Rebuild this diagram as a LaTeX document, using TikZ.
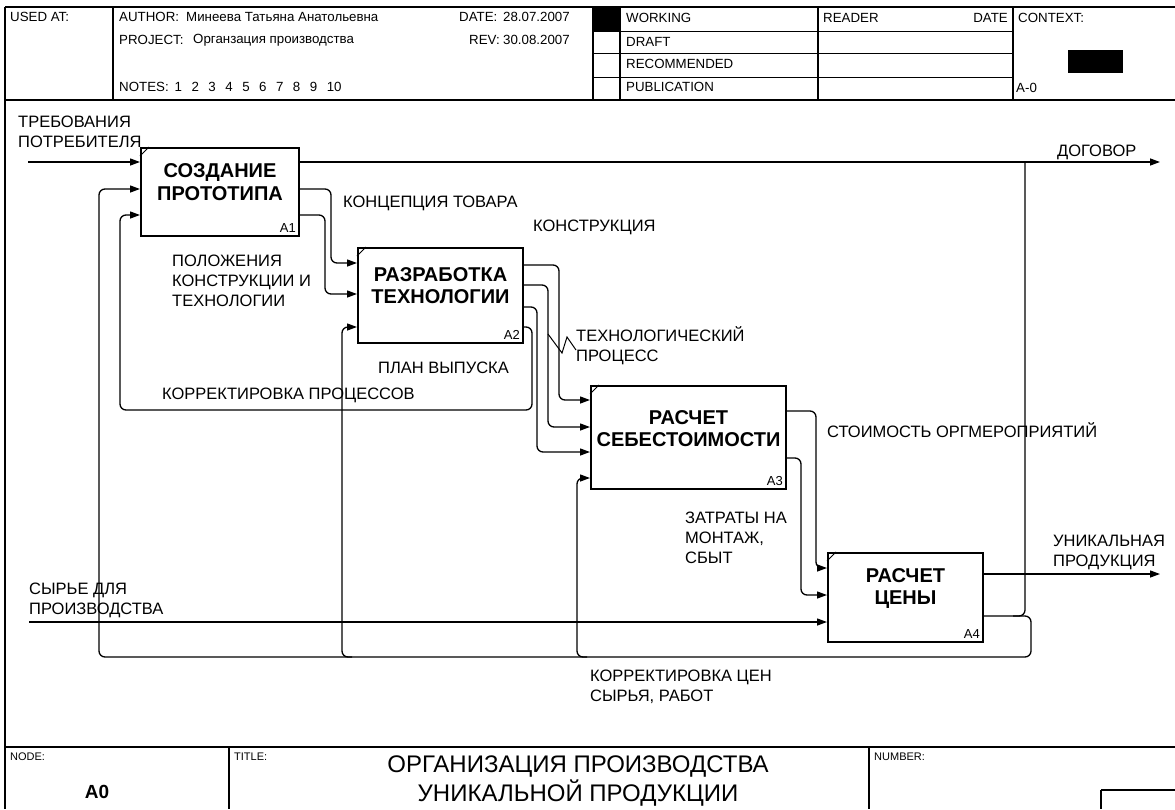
\documentclass[tikz,border=0pt]{standalone}
\usepackage{fontspec}
\setmainfont{Liberation Sans}
\usetikzlibrary{arrows.meta,calc}
\begin{document}
\begin{tikzpicture}[x=1pt,y=-1pt,
  frame/.style={line width=1.3pt},
  rowline/.style={line width=0.9pt},
  fbox/.style={draw, line width=2pt, anchor=north west, inner sep=0pt},
  ttl/.style={font=\bfseries\fontsize{20}{22.5}\selectfont, align=center, inner sep=0pt},
  num/.style={font=\fontsize{13}{15}\selectfont, anchor=south east, inner sep=0pt},
  lbl/.style={font=\fontsize{16.5}{20}\selectfont, align=left, anchor=west, inner sep=0pt},
  hd/.style={font=\fontsize{13.3}{15}\selectfont, anchor=west, inner sep=0pt},
  ft/.style={font=\fontsize{11}{13}\selectfont, anchor=west, inner sep=0pt},
  arr/.style={line width=1.3pt, rounded corners=6pt, -{Triangle[length=10pt,width=7pt]}},
  ln/.style={line width=1.3pt, rounded corners=6pt},
  tick/.style={line width=1pt}
]
\useasboundingbox (0,0) rectangle (1175,809);
\fill[white] (0,0) rectangle (1175,809);

% ---------- header ----------
\draw[frame] (5,7) -- (1175,7);
\draw[frame] (5,100) -- (1175,100);
\draw[frame] (5,7) -- (5,809);
\draw[frame] (113,7) -- (113,100);
\draw[frame] (593,7) -- (593,100);
\draw[frame] (620,7) -- (620,100);
\draw[frame] (818,7) -- (818,100);
\draw[frame] (1013,7) -- (1013,100);
\draw[rowline] (593,31) -- (1013,31);
\draw[rowline] (593,53) -- (1013,53);
\draw[rowline] (593,77) -- (1013,77);
\fill[black] (593,7) rectangle (620,31);
\fill[black] (1068,50) rectangle (1123,73);

\node[hd] (usedat) at (10,17) {USED AT:};
\node[hd] (author) at (119,17) {AUTHOR:};
\node[hd] (authorname) at (186,17) {Минеева Татьяна Анатольевна};
\node[hd] (project) at (119,40) {PROJECT:};
\node[hd] (projectname) at (193,40) {Органзация производства};
\node[hd] (date) at (459,17) {DATE:};
\node[hd] (dateval) at (503,17) {28.07.2007};
\node[hd] (rev) at (469,40) {REV:};
\node[hd] (revval) at (503,40) {30.08.2007};
\node[hd] (notes) at (119,87) {NOTES:\hspace{6pt}1\hspace{9.5pt}2\hspace{9.5pt}3\hspace{9.5pt}4\hspace{9.5pt}5\hspace{9.5pt}6\hspace{9.5pt}7\hspace{9.5pt}8\hspace{9.5pt}9\hspace{9.5pt}10};
\node[hd] (working) at (626,18) {WORKING};
\node[hd] (draft) at (626,42) {DRAFT};
\node[hd] (recommended) at (626,64) {RECOMMENDED};
\node[hd] (publication) at (626,87) {PUBLICATION};
\node[hd] (reader) at (823,18) {READER};
\node[hd, anchor=east] (rdate) at (1008,18) {DATE};
\node[hd] (context) at (1018,18) {CONTEXT:};
\node[hd] (aminus) at (1016,88) {A-0};

% ---------- footer ----------
\draw[frame] (5,747) -- (1175,747);
\draw[frame] (229,747) -- (229,809);
\draw[frame] (869,747) -- (869,809);
\draw[frame] (1101,790) -- (1175,790);
\draw[frame] (1101,790) -- (1101,809);
\node[ft] (nodelbl) at (10,757) {NODE:};
\node[ft] (titlelbl) at (234,757) {TITLE:};
\node[ft] (numberlbl) at (874,757) {NUMBER:};
\node[font=\bfseries\fontsize{19}{22}\selectfont, inner sep=0pt] (nodeA0) at (97,792) {A0};
\node[font=\fontsize{24}{27}\selectfont, inner sep=0pt] (title1) at (578,766) {ОРГАНИЗАЦИЯ ПРОИЗВОДСТВА};
\node[font=\fontsize{24}{27}\selectfont, inner sep=0pt] (title2) at (578,793) {УНИКАЛЬНОЙ ПРОДУКЦИИ};

% ---------- boxes ----------
\node[fbox, minimum width=158pt, minimum height=88pt] (A1) at (140,147) {};
\node[fbox, minimum width=165pt, minimum height=95pt] (A2) at (357,247) {};
\node[fbox, minimum width=195pt, minimum height=103pt] (A3) at (590,385) {};
\node[fbox, minimum width=155pt, minimum height=89pt] (A4) at (827,552) {};

\node[ttl] (A1t) at ([yshift=10pt]A1.center) {СОЗДАНИЕ\\ПРОТОТИПА};
\node[ttl] (A2t) at ([yshift=10pt]A2.center) {РАЗРАБОТКА\\ТЕХНОЛОГИИ};
\node[ttl] (A3t) at ([yshift=9pt]A3.center) {РАСЧЕТ\\СЕБЕСТОИМОСТИ};
\node[ttl] (A4t) at ([yshift=9pt]A4.center) {РАСЧЕТ\\ЦЕНЫ};

\foreach \b in {A1,A2,A3,A4}{
  \node[num] (\b n) at ([shift={(-4pt,4pt)}]\b.south east) {\b};
  \draw[tick] ([yshift=-9pt]\b.north west) -- ([xshift=9pt]\b.north west);
}

% ---------- arrows ----------
\coordinate (reqin) at (28,162);
\coordinate (dogout) at (1160,162);
\coordinate (rawin) at (29,622);
\coordinate (uniqout) at (1160,574);

% inputs / outputs at the borders
\draw[arr] (reqin) -- (reqin -| A1.west);
\draw[arr] (A1.east |- reqin) -- (dogout);
\draw[arr] (rawin) -- (rawin -| A4.west);
\draw[arr] (A4.east |- uniqout) -- (uniqout);

% A1 -> A2
\draw[arr] (A1.east |- 0,189) -- (331,189) -- (331,263) -- (A2.west |- 0,263);
\draw[arr] (A1.east |- 0,215) -- (325,215) -- (325,294) -- (A2.west |- 0,294);

% A2 -> A3
\draw[arr] (A2.east |- 0,265) -- (559,265) -- (559,400) -- (A3.west |- 0,400);
\draw[arr] (A2.east |- 0,285) -- (548,285) -- (548,427) -- (A3.west |- 0,427);
\draw[arr] (A2.east |- 0,307) -- (537,307) -- (537,452) -- (A3.west |- 0,452);

% A2 -> A1 feedback
\draw[arr] (A2.east |- 0,327) -- (532,327) -- (532,410) -- (120,410) -- (120,215) -- (A1.west |- 0,215);

% A3 -> A4
\draw[arr] (A3.east |- 0,411) -- (816,411) -- (816,568) -- (A4.west |- 0,568);
\draw[arr] (A3.east |- 0,458) -- (801,458) -- (801,595) -- (A4.west |- 0,595);

% A4 -> big feedback loop
\draw[arr] (A4.east |- 0,616) -- (1031,616) -- (1031,657) -- (99,657) -- (99,189) -- (A1.west |- 0,189);
\draw[arr] (352,657) -- (342,657) -- (342,327) -- (A2.west |- 0,327);
\draw[arr] (587,657) -- (577,657) -- (577,478) -- (A3.west |- 0,478);
% A4 -> ДОГОВОР branch
\draw[ln] (1013,616) -- (1025,616) -- (1025,162);

% squiggle
\draw[line width=1pt] (548,334) -- (562,353) -- (567,337) -- (576,350);

% ---------- labels ----------
\node[lbl] (l1) at (18,132) {ТРЕБОВАНИЯ\\ПОТРЕБИТЕЛЯ};
\node[lbl] (l2) at (343,203) {КОНЦЕПЦИЯ ТОВАРА};
\node[lbl] (l3) at (533,227) {КОНСТРУКЦИЯ};
\node[lbl] (l4) at (172,281) {ПОЛОЖЕНИЯ\\КОНСТРУКЦИИ И\\ТЕХНОЛОГИИ};
\node[lbl] (l5) at (576,346) {ТЕХНОЛОГИЧЕСКИЙ\\ПРОЦЕСС};
\node[lbl] (l6) at (378,368) {ПЛАН ВЫПУСКА};
\node[lbl] (l7) at (162,395) {КОРРЕКТИРОВКА ПРОЦЕССОВ};
\node[lbl] (l8) at (827,430) {СТОИМОСТЬ ОРГМЕРОПРИЯТИЙ};
\node[lbl] (l9) at (685,538) {ЗАТРАТЫ НА\\МОНТАЖ,\\СБЫТ};
\node[lbl] (l10) at (1053,552) {УНИКАЛЬНАЯ\\ПРОДУКЦИЯ};
\node[lbl] (l11) at (1057,152) {ДОГОВОР};
\node[lbl] (l12) at (29,600) {СЫРЬЕ ДЛЯ\\ПРОИЗВОДСТВА};
\node[lbl] (l13) at (590,687) {КОРРЕКТИРОВКА ЦЕН\\СЫРЬЯ, РАБОТ};
\end{tikzpicture}
\end{document}
